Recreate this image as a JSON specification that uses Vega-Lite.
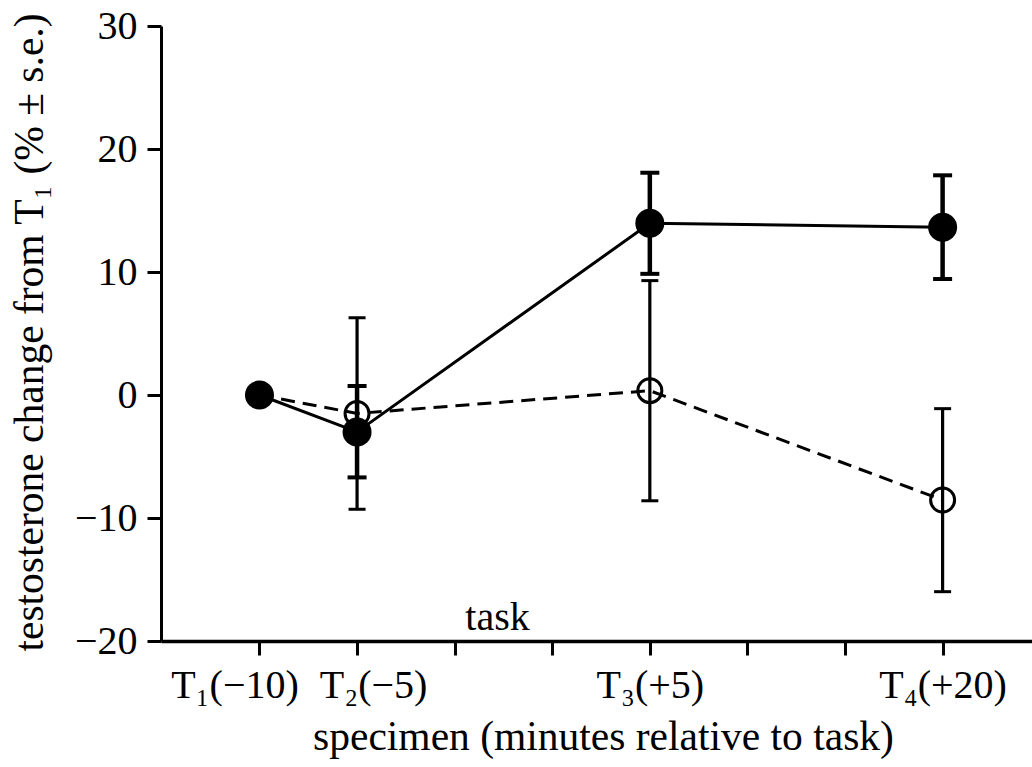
{
  "$schema": "https://vega.github.io/schema/vega-lite/v6.json",
  "autosize": "none",
  "width": 871,
  "height": 615,
  "padding": {"left": 161, "top": 26, "right": 0, "bottom": 126},
  "background": "white",
  "config": {
    "view": {"stroke": null},
    "font": "Liberation Serif",
    "axis": {
      "labelFont": "Liberation Serif",
      "titleFont": "Liberation Serif",
      "labelFontSize": 40,
      "titleFontSize": 41.5,
      "titleFontWeight": "normal",
      "labelColor": "black",
      "titleColor": "black",
      "domainColor": "black",
      "tickColor": "black",
      "grid": false
    }
  },
  "data": {
    "values": [
      {"grp": "filled", "i": 0, "v": 0, "lo": null, "hi": null},
      {"grp": "filled", "i": 1, "v": -3.0, "lo": -6.7, "hi": 0.73},
      {"grp": "filled", "i": 4, "v": 13.96, "lo": 9.85, "hi": 18.07},
      {"grp": "filled", "i": 7, "v": 13.63, "lo": 9.43, "hi": 17.86},
      {"grp": "open", "i": 0, "v": 0, "lo": null, "hi": null},
      {"grp": "open", "i": 1, "v": -1.5, "lo": -9.29, "hi": 6.28},
      {"grp": "open", "i": 4, "v": 0.35, "lo": -8.6, "hi": 9.3},
      {"grp": "open", "i": 7, "v": -8.54, "lo": -15.99, "hi": -1.11}
    ]
  },
  "encoding": {
    "x": {
      "field": "i", "type": "quantitative",
      "scale": {"domain": [-1.009, 7.916], "nice": false, "zero": false},
      "axis": {
        "values": [0, 1, 2, 3, 4, 5, 6, 7],
        "labelExpr": "datum.value == 0 ? 'T₁(−10)' : datum.value == 1 ? 'T₂(−5)' : datum.value == 4 ? 'T₃(+5)' : datum.value == 7 ? 'T₄(+20)' : ''",
        "labelOffset": {"condition": [{"test": "datum.value == 0", "value": -25}, {"test": "datum.value == 1", "value": 16}], "value": 0},
        "labelBaseline": "alphabetic",
        "labelPadding": 42,
        "labelOverlap": false,
        "labelFlush": false,
        "tickSize": 14,
        "tickWidth": 3,
        "domainWidth": 3.5,
        "title": "specimen (minutes relative to task)",
        "titleBaseline": "alphabetic",
        "titleX": 442,
        "titleY": 108,
        "titleAlign": "center"
      }
    },
    "y": {
      "field": "v", "type": "quantitative",
      "scale": {"domain": [-20, 30], "nice": false, "zero": false},
      "axis": {
        "values": [-20, -10, 0, 10, 20, 30],
        "tickSize": 14,
        "tickWidth": 3,
        "domainWidth": 3,
        "labelPadding": 10,
        "title": "testosterone change from T₁ (% ± s.e.)",
        "titleAngle": -90,
        "titleBaseline": "alphabetic",
        "titleAlign": "center",
        "titleX": -119,
        "titleY": 306
      }
    }
  },
  "layer": [
    {
      "transform": [{"filter": "datum.grp == 'open'"}],
      "mark": {"type": "line", "color": "black", "strokeWidth": 3, "strokeDash": [14, 8]}
    },
    {
      "transform": [{"filter": "datum.grp == 'open' && datum.lo != null"}],
      "mark": {"type": "rule", "color": "black", "strokeWidth": 3.2},
      "encoding": {"y": {"field": "lo", "type": "quantitative"}, "y2": {"field": "hi"}}
    },
    {
      "transform": [{"filter": "datum.grp == 'open' && datum.lo != null"}],
      "mark": {"type": "tick", "orient": "horizontal", "color": "black", "size": 17, "thickness": 3, "opacity": 1},
      "encoding": {"y": {"field": "lo", "type": "quantitative"}}
    },
    {
      "transform": [{"filter": "datum.grp == 'open' && datum.lo != null"}],
      "mark": {"type": "tick", "orient": "horizontal", "color": "black", "size": 17, "thickness": 3, "opacity": 1},
      "encoding": {"y": {"field": "hi", "type": "quantitative"}}
    },
    {
      "transform": [{"filter": "datum.grp == 'filled'"}],
      "mark": {"type": "line", "color": "black", "strokeWidth": 3}
    },
    {
      "transform": [{"filter": "datum.grp == 'filled' && datum.lo != null"}],
      "mark": {"type": "rule", "color": "black", "strokeWidth": 4.5},
      "encoding": {"y": {"field": "lo", "type": "quantitative"}, "y2": {"field": "hi"}}
    },
    {
      "transform": [{"filter": "datum.grp == 'filled' && datum.lo != null"}],
      "mark": {"type": "tick", "orient": "horizontal", "color": "black", "size": 19, "thickness": 4, "opacity": 1},
      "encoding": {"y": {"field": "lo", "type": "quantitative"}}
    },
    {
      "transform": [{"filter": "datum.grp == 'filled' && datum.lo != null"}],
      "mark": {"type": "tick", "orient": "horizontal", "color": "black", "size": 19, "thickness": 4, "opacity": 1},
      "encoding": {"y": {"field": "hi", "type": "quantitative"}}
    },
    {
      "transform": [{"filter": "datum.grp == 'open'"}],
      "mark": {"type": "point", "shape": "circle", "filled": false, "stroke": "black", "strokeWidth": 3, "size": 576, "opacity": 1}
    },
    {
      "transform": [{"filter": "datum.grp == 'filled'"}],
      "mark": {"type": "point", "shape": "circle", "filled": true, "color": "black", "size": 841, "opacity": 1}
    },
    {
      "data": {"values": [{"i": 2.44, "v": -19.1, "label": "task"}]},
      "mark": {"type": "text", "font": "Liberation Serif", "fontSize": 40, "align": "center", "baseline": "alphabetic", "color": "black"},
      "encoding": {"text": {"field": "label"}}
    }
  ]
}
